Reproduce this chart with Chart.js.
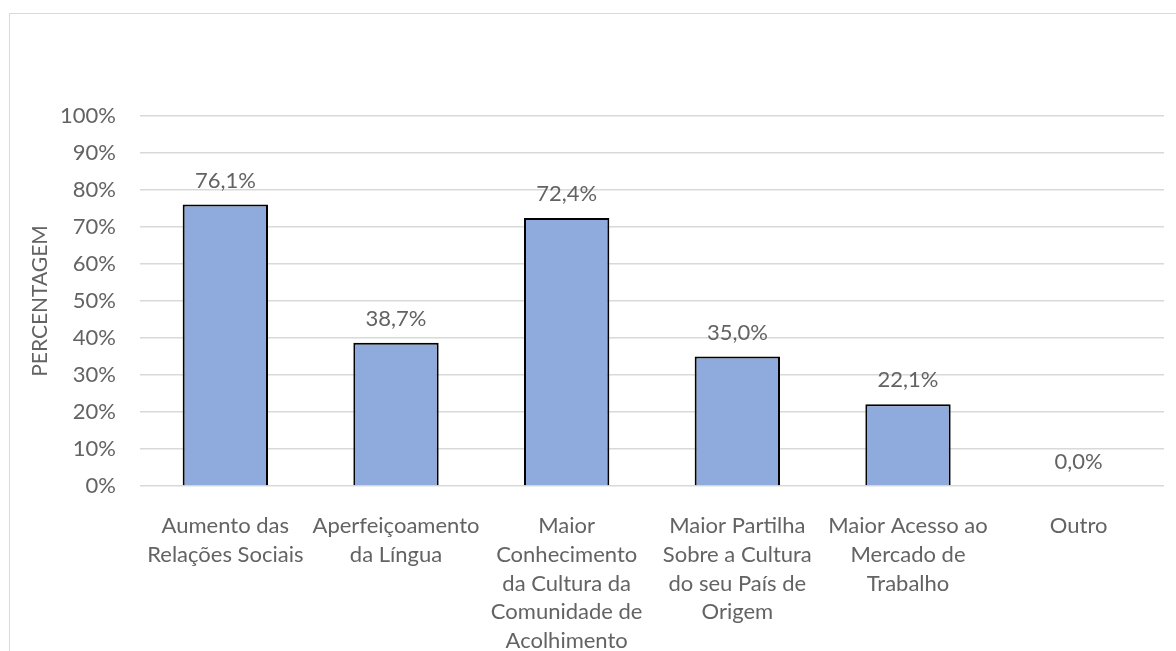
<!DOCTYPE html>
<html>
<head>
<meta charset="utf-8">
<script src="https://cdn.jsdelivr.net/npm/chart.js@4/dist/chart.umd.min.js"></script>
<style>
  body { margin: 0; background: #fff; }
  #wrap { position: relative; width: 1176px; height: 651px; overflow: hidden; }
  #frame { position: absolute; left: 9px; top: 13px; width: 1300px; height: 800px; border: 1px solid #d9d9d9; }
  canvas { position: absolute; left: 0; top: 0; }
</style>
</head>
<body>
<div id="wrap">
  <div id="frame"></div>
  <canvas id="mycanvas" width="1176" height="651"></canvas>
</div>
<script>
// categories (one array per label, split in lines like the original)
var categorias = [
  ["Aumento das", "Relações Sociais"],
  ["Aperfeiçoamento", "da Língua"],
  ["Maior", "Conhecimento", "da Cultura da", "Comunidade de", "Acolhimento"],
  ["Maior Partilha", "Sobre a Cultura", "do seu País de", "Origem"],
  ["Maior Acesso ao", "Mercado de", "Trabalho"],
  ["Outro"]
];
var percentagem = [76.1, 38.7, 72.4, 35.0, 22.1, 0.0];
var yTicks = [0, 10, 20, 30, 40, 50, 60, 70, 80, 90, 100];

var cinza = "#636363";
var fonte = { family: "Lato", size: 22, lineHeight: 1.3 };

// draws the value above each bar
var rotulos = {
  id: "rotulos",
  afterDatasetsDraw: function(chart) {
    var ctx = chart.ctx;
    var meta = chart.getDatasetMeta(0);
    ctx.save();
    ctx.font = "22px Lato";
    ctx.fillStyle = cinza;
    ctx.textAlign = "center";
    ctx.textBaseline = "middle";
    meta.data.forEach(function(bar, i) {
      var txt = percentagem[i].toFixed(1).replace(".", ",") + "%";
      ctx.fillText(txt, bar.x, bar.y - 24);
    });
    ctx.restore();
  }
};

var ctx = document.getElementById("mycanvas");

var grafico = new Chart(ctx, {
  type: "bar",
  data: {
    labels: categorias,
    datasets: [{
      data: percentagem,
      backgroundColor: "#8FAADC",
      borderColor: "#000000",
      borderWidth: 2,
      barPercentage: 0.5,
      categoryPercentage: 1
    }]
  },
  options: {
    responsive: false,
    animation: false,
    layout: { padding: { left: 28, top: 116, right: 12, bottom: 0 } },
    plugins: {
      legend: { display: false },
      tooltip: { enabled: false }
    },
    scales: {
      x: {
        grid: { display: false },
        border: { display: false },
        ticks: { color: cinza, font: { family: "Lato", size: 22, lineHeight: 1.3 }, padding: 18, maxRotation: 0, autoSkip: false },
        afterFit: function(s) { s.height = 165; }
      },
      y: {
        min: 0,
        max: 100,
        afterBuildTicks: function(s) { s.ticks = yTicks.map(function(v) { return { value: v }; }); },
        grid: { color: "#d9d9d9", lineWidth: 1.5, drawTicks: false },
        border: { display: false },
        ticks: {
          color: cinza,
          font: fonte,
          padding: 24,
          callback: function(v) { return v + "%"; }
        },
        title: {
          display: true,
          text: "PERCENTAGEM",
          color: cinza,
          font: { family: "Lato", size: 21 },
          padding: 0
        },
        afterFit: function(s) { s.width = 112; }
      }
    }
  },
  plugins: [rotulos]
});
</script>
</body>
</html>
